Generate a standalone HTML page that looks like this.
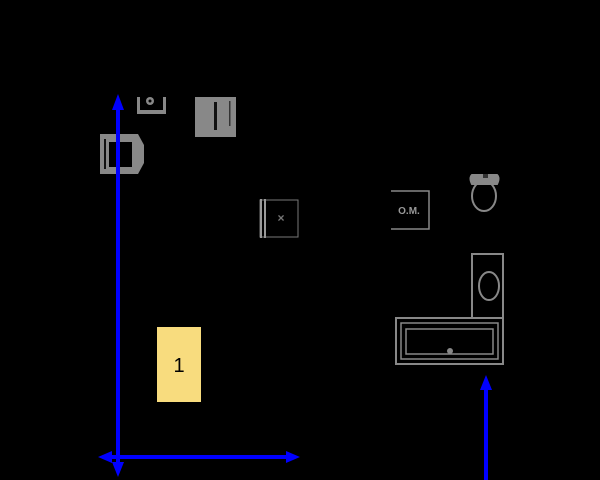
<!DOCTYPE html>
<html><head><meta charset="utf-8"><style>html,body{margin:0;padding:0;background:#000;}svg{display:block}</style></head>
<body>
<svg width="600" height="480" viewBox="0 0 600 480" xmlns="http://www.w3.org/2000/svg">
<rect width="600" height="480" fill="#000"/>
<!-- gray fixtures -->
<g fill="#888" stroke="none">
  <!-- top small device -->
  <path d="M137 97 H166 V114 H137 Z M140 97 V110 H163 V97 Z" fill-rule="evenodd"/>
  <circle cx="150" cy="101" r="4"/>
  <circle cx="150" cy="101" r="1.5" fill="#000"/>
  <!-- panel -->
  <rect x="195" y="97" width="41" height="40"/>
  <rect x="214" y="102" width="3" height="28" fill="#111"/>
  <rect x="229" y="101" width="1.5" height="25" fill="#333"/>
  <!-- chair -->
  <path d="M100 134 H138 L144 145 V163 L138 174 H100 Z"/>
  <rect x="104" y="139" width="2" height="30" fill="#111"/>
  <rect x="109" y="142" width="23" height="25" fill="#000"/>
</g>
<!-- x box -->
<g>
  <rect x="260" y="200" width="38" height="37" fill="none" stroke="#777" stroke-width="1"/>
  <rect x="260" y="199" width="2" height="39" fill="#999"/>
  <rect x="264" y="199" width="2" height="39" fill="#999"/>
  <text x="281" y="222" font-family="Liberation Sans, sans-serif" font-size="12" font-weight="bold" fill="#777" text-anchor="middle">×</text>
</g>
<!-- O.M. box -->
<g>
  <path d="M391 191 H429 V229 H391" fill="none" stroke="#888" stroke-width="1.5"/>
  <text x="409" y="214" font-family="Liberation Sans, sans-serif" font-size="10" font-weight="bold" fill="#999" text-anchor="middle">O.M.</text>
</g>
<!-- toilet -->
<g fill="none" stroke="#888" stroke-width="2">
  <path d="M472 175 H497 Q500 178 497 184 H472 Q469 178 472 175 Z" fill="#888"/>
  <ellipse cx="484" cy="196" rx="12" ry="15"/>
  <rect x="483" y="174" width="5" height="4" fill="#333" stroke="none"/>
</g>
<!-- vanity -->
<g fill="none" stroke="#888" stroke-width="2">
  <rect x="472" y="254" width="31" height="64"/>
  <ellipse cx="489" cy="286" rx="10" ry="14"/>
</g>
<!-- bathtub -->
<g fill="none" stroke="#888" stroke-width="2">
  <rect x="396" y="318" width="107" height="46"/>
  <rect x="401" y="323" width="97" height="36" stroke-width="1.5"/>
  <rect x="406" y="329" width="87" height="25" stroke-width="1.5"/>
  <circle cx="450" cy="351" r="2" fill="#888"/>
</g>
<!-- yellow box -->
<rect x="157" y="327" width="44" height="75" fill="#f8dc7e"/>
<text x="179" y="372" font-family="Liberation Sans, sans-serif" font-size="20" fill="#000" text-anchor="middle">1</text>
<!-- blue arrows -->
<g stroke="#0000ff" stroke-width="4" fill="#0000ff">
  <line x1="118" y1="104" x2="118" y2="466"/>
  <line x1="106" y1="457" x2="292" y2="457"/>
  <line x1="486" y1="385" x2="486" y2="480"/>
</g>
<g fill="#0000ff">
  <path d="M118 94 L112 110 H124 Z"/>
  <path d="M118 477 L112 462 H124 Z"/>
  <path d="M98 457 L112 451 V463 Z"/>
  <path d="M300 457 L286 451 V463 Z"/>
  <path d="M486 375 L480 390 H492 Z"/>
</g>
</svg>
</body></html>
